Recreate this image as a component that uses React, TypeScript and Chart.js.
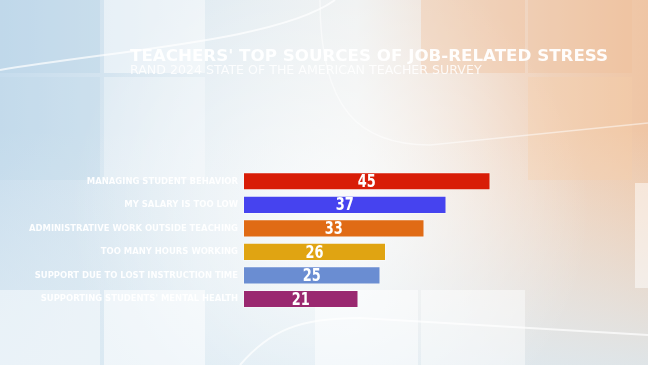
import React, { useEffect, useRef } from "react";
import { Chart, registerables } from "chart.js";

Chart.register(...registerables);

const categories = [
  "MANAGING STUDENT BEHAVIOR",
  "MY SALARY IS TOO LOW",
  "ADMINISTRATIVE WORK OUTSIDE TEACHING",
  "TOO MANY HOURS WORKING",
  "SUPPORT DUE TO LOST INSTRUCTION TIME",
  "SUPPORTING STUDENTS' MENTAL HEALTH",
];
const values = [45, 37, 33, 26, 25, 21];
const barColors = ["#d81d07", "#4643ef", "#e06b15", "#e0a412", "#6a8dd2", "#9a2870"];
const titleText = "TEACHERS' TOP SOURCES OF JOB-RELATED STRESS";
const subtitleText = "RAND 2024 STATE OF THE AMERICAN TEACHER SURVEY";

const COND = "'DejaVu Sans Condensed', 'DejaVu Sans', sans-serif";

const backgroundPlugin = {
  id: "bgArt",
  beforeDraw(chart: any) {
    const { ctx, width, height } = chart;
    ctx.save();
    const g = ctx.createLinearGradient(0, 0, width, 0);
    g.addColorStop(0, "#c6dced");
    g.addColorStop(0.3, "#e0ebf2");
    g.addColorStop(0.55, "#eff1f1");
    g.addColorStop(0.78, "#f0d8c6");
    g.addColorStop(1, "#efc5a4");
    ctx.fillStyle = g;
    ctx.fillRect(0, 0, width, height);
    const v = ctx.createLinearGradient(0, 130, 0, height);
    v.addColorStop(0, "rgba(235,242,246,0)");
    v.addColorStop(1, "rgba(220,234,243,0.85)");
    ctx.fillStyle = v;
    ctx.fillRect(0, 130, width, height - 130);
    const r = ctx.createRadialGradient(330, 210, 10, 330, 210, 260);
    r.addColorStop(0, "rgba(255,255,255,0.7)");
    r.addColorStop(1, "rgba(255,255,255,0)");
    ctx.fillStyle = r;
    ctx.fillRect(0, 0, width, height);
    const tiles: [number, number, number, number, string][] = [
      [0, 0, 100, 73, "rgba(180,210,230,0.35)"],
      [104, 0, 101, 73, "rgba(255,255,255,0.45)"],
      [0, 77, 100, 103, "rgba(190,215,232,0.3)"],
      [104, 77, 101, 103, "rgba(255,255,255,0.3)"],
      [421, 0, 104, 73, "rgba(240,190,150,0.35)"],
      [528, 0, 104, 73, "rgba(240,190,150,0.3)"],
      [528, 77, 104, 103, "rgba(245,205,170,0.35)"],
      [0, 290, 100, 75, "rgba(255,255,255,0.45)"],
      [104, 290, 101, 75, "rgba(255,255,255,0.55)"],
      [315, 290, 103, 75, "rgba(255,255,255,0.5)"],
      [421, 290, 104, 75, "rgba(255,255,255,0.45)"],
      [635, 183, 13, 105, "rgba(255,255,255,0.5)"],
    ];
    tiles.forEach(([x, y, w, h, c]) => {
      ctx.fillStyle = c;
      ctx.fillRect(x, y, w, h);
    });
    ctx.strokeStyle = "rgba(255,255,255,0.7)";
    ctx.lineWidth = 2;
    ctx.beginPath();
    ctx.moveTo(0, 70);
    ctx.bezierCurveTo(120, 50, 280, 40, 335, 0);
    ctx.stroke();
    ctx.beginPath();
    ctx.moveTo(240, 365);
    ctx.bezierCurveTo(270, 330, 300, 318, 360, 318);
    ctx.lineTo(648, 335);
    ctx.stroke();
    ctx.strokeStyle = "rgba(255,255,255,0.5)";
    ctx.lineWidth = 1.5;
    ctx.beginPath();
    ctx.moveTo(320, 0);
    ctx.bezierCurveTo(320, 110, 360, 145, 430, 145);
    ctx.lineTo(648, 123);
    ctx.stroke();
    ctx.restore();
  },
};

const textPlugin = {
  id: "titleText",
  afterDraw(chart: any) {
    const { ctx } = chart;
    ctx.save();
    ctx.fillStyle = "rgba(255,255,255,0.95)";
    ctx.textAlign = "left";
    ctx.textBaseline = "alphabetic";
    ctx.font = "bold 16.7px 'DejaVu Sans', sans-serif";
    ctx.fillText(titleText, 130, 61);
    ctx.fillStyle = "rgba(255,255,255,0.85)";
    ctx.font = "12.6px 'DejaVu Sans', sans-serif";
    ctx.fillText(subtitleText, 130, 74);
    ctx.restore();
  },
};

const valuePlugin = {
  id: "valueLabels",
  afterDatasetsDraw(chart: any) {
    const { ctx } = chart;
    const meta = chart.getDatasetMeta(0);
    const ds = chart.data.datasets[0];
    meta.data.forEach((el: any, i: number) => {
      ctx.save();
      ctx.fillStyle = "#ffffff";
      ctx.font = `bold 18px ${COND}`;
      ctx.textAlign = "center";
      ctx.textBaseline = "middle";
      ctx.translate((el.x + el.base) / 2, el.y + 1);
      ctx.scale(0.8, 1);
      ctx.fillText(String(ds.data[i]), 0, 0);
      ctx.restore();
    });
  },
};

export default function App() {
  const ref = useRef<HTMLCanvasElement | null>(null);
  useEffect(() => {
    if (!ref.current) return;
    const chart = new Chart(ref.current, {
      type: "bar",
      data: {
        labels: categories,
        datasets: [
          {
            data: values,
            backgroundColor: barColors,
            borderColor: "rgba(255,255,255,0.35)",
            borderWidth: 1,
            borderSkipped: false,
            barPercentage: 0.77,
            categoryPercentage: 1,
          },
        ],
      },
      options: {
        indexAxis: "y",
        animation: false,
        responsive: false,
        maintainAspectRatio: false,
        layout: { padding: { top: 169.5, bottom: 54.25, left: 0, right: 75 } },
        plugins: {
          legend: { display: false },
          title: { display: false },
          tooltip: { enabled: false },
        },
        scales: {
          x: { display: false, min: 0, max: 60 },
          y: {
            grid: { display: false, drawTicks: false },
            border: { display: false },
            afterFit: (scale: any) => {
              scale.width = 243;
            },
            ticks: {
              color: "rgba(255,255,255,0.95)",
              padding: 5,
              font: { family: COND, size: 9.4, weight: "bold" },
            },
          },
        },
      },
      plugins: [backgroundPlugin, valuePlugin, textPlugin],
    });
    return () => chart.destroy();
  }, []);
  return (
    <div style={{ position: "fixed", left: 0, top: 0, width: 648, height: 365 }}>
      <canvas ref={ref} width={648} height={365} style={{ display: "block" }} />
    </div>
  );
}
